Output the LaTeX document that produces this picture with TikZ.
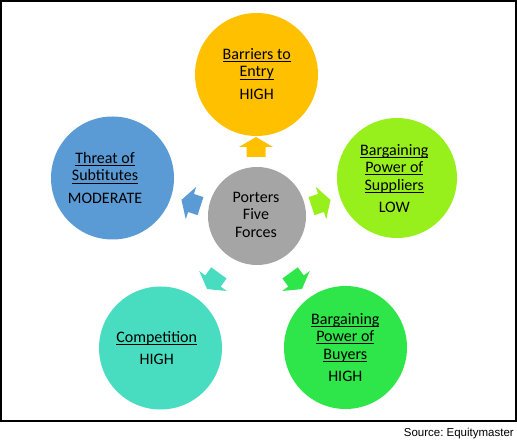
\documentclass[tikz,border=0pt]{standalone}
\usepackage{fontspec}
\setmainfont{Carlito}
\newfontfamily\srcfont{Liberation Sans}
\frenchspacing
\newsavebox\ulbox
\newcommand\myul[1]{\sbox\ulbox{#1}\rlap{\rule[-2.6pt]{\wd\ulbox}{0.9pt}}\usebox\ulbox}
\definecolor{cyellow}{HTML}{FFC000}
\definecolor{clime}{HTML}{97F01B}
\definecolor{cgreen}{HTML}{2EE649}
\definecolor{cteal}{HTML}{48DDC0}
\definecolor{cblue}{HTML}{5B9BD5}
\definecolor{cgray}{HTML}{A5A5A5}
\tikzset{
  ball/.style={circle, inner sep=0pt, draw=none, minimum size=123pt},
  hub/.style={circle, inner sep=0pt, draw=none, minimum size=98pt, fill=cgray},
  lbl/.style={align=center, inner sep=0pt, text=black, font=\fontsize{16}{17.5}\selectfont},
  blockarrow/.pic={\fill[pic actions] (-10,-9.5) -- (0,-9.5) -- (0,-17) -- (10,0) -- (0,17) -- (0,9.5) -- (-10,9.5) -- cycle;}
}
\begin{document}
\begin{tikzpicture}[x=1pt,y=-1pt]
\useasboundingbox (0,0) rectangle (517,443);
\draw[line width=2pt] (1,1) rectangle (516,421.5);
% circles
\node[ball, fill=cyellow] (entry) at (256.5,74.5) {};
\node[ball, fill=clime, minimum size=120pt] (suppliers) at (397,178) {};
\node[ball, fill=cgreen] (buyers) at (345.5,347.5) {};
\node[ball, fill=cteal] (competition) at (160.5,348) {};
\node[ball, fill=cblue] (threat) at (112.5,178) {};
\node[hub] (center) at (257,216) {};
% arrows
\pic[fill=cyellow, rotate=90] at (256,147) {blockarrow};
\pic[fill=clime, rotate=18] at (321,203) {blockarrow};
\pic[fill=cgreen, rotate=-54] at (296,281) {blockarrow};
\pic[fill=cteal, rotate=-126] at (213,281) {blockarrow};
\pic[fill=cblue, rotate=162] at (191,203) {blockarrow};
% texts
\node[lbl] (entrytxt) at (256.7,74) {\myul{Barriers to}\\\myul{Entry}\\[5pt]HIGH};
\node[lbl] (supptxt) at (394.3,178.5) {\myul{Bargaining}\\\myul{Power of}\\\myul{Suppliers}\\[5pt]LOW};
\node[lbl] (buytxt) at (345.3,347.5) {\myul{Bargaining}\\\myul{Power of}\\\myul{Buyers}\\[5pt]HIGH};
\node[lbl] (comptxt) at (156.7,348) {\myul{Competition}\\[5pt]HIGH};
\node[lbl] (threattxt) at (105,178) {\myul{Threat of}\\\myul{Subtitutes}\\[5pt]MODERATE};
\node[lbl] (centertxt) at (256,214.5) {Porters\\Five\\Forces};
\node[anchor=base east, inner sep=0pt, font=\srcfont\fontsize{11.5}{13}\selectfont] (src) at (514,436.7) {Source: Equitymaster};
\end{tikzpicture}
\end{document}
